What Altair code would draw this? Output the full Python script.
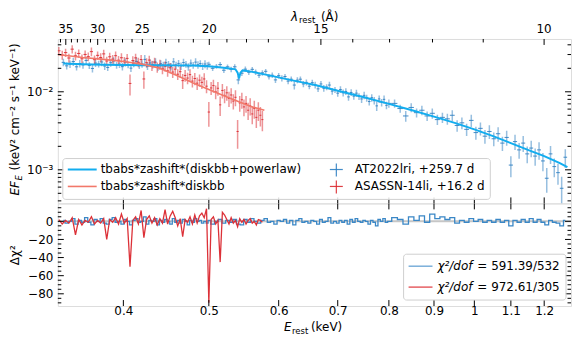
import altair as alt
import pandas as pd

# ---------------- data ----------------
# AT2022lri spectrum (blue): rest energy (keV), EF_E, relative error, residual
blue_E = [0.342, 0.345, 0.348, 0.351, 0.354, 0.357, 0.360, 0.363, 0.366, 0.369,
          0.372, 0.375, 0.378, 0.381, 0.384, 0.387, 0.390, 0.393, 0.396, 0.399,
          0.402, 0.405, 0.408, 0.411, 0.414, 0.417, 0.420, 0.423, 0.426, 0.429,
          0.432, 0.435, 0.438, 0.441, 0.444, 0.447, 0.450, 0.453, 0.456, 0.459,
          0.462, 0.465, 0.468, 0.471, 0.474, 0.477, 0.480, 0.483, 0.486, 0.489,
          0.492, 0.495, 0.498,
          0.500, 0.505, 0.510, 0.515, 0.520, 0.525, 0.530, 0.535, 0.540, 0.545,
          0.550, 0.555, 0.560, 0.565, 0.570, 0.575, 0.580, 0.585, 0.590, 0.595,
          0.600, 0.605, 0.610, 0.615, 0.620, 0.625, 0.630, 0.635, 0.640, 0.645,
          0.650, 0.655, 0.660, 0.665, 0.670, 0.675, 0.680, 0.685, 0.690, 0.695,
          0.700, 0.705, 0.710, 0.715, 0.720, 0.725, 0.730, 0.735, 0.740, 0.745,
          0.750, 0.755, 0.760, 0.765, 0.770, 0.775, 0.780, 0.785, 0.790, 0.795,
          0.800,
          0.812, 0.824, 0.836, 0.848, 0.860, 0.872, 0.884, 0.896, 0.908, 0.920,
          0.932, 0.944, 0.956, 0.968, 0.980, 0.992, 1.004, 1.016, 1.028, 1.040,
          1.052, 1.064, 1.076, 1.088, 1.100, 1.112, 1.124, 1.136, 1.148, 1.160,
          1.172, 1.184, 1.196, 1.208, 1.220, 1.232, 1.244, 1.256, 1.268]
blue_flux = [0.0238, 0.0215, 0.0226, 0.0244, 0.0209, 0.0230, 0.0221, 0.0252, 0.0218, 0.0199,
             0.0233, 0.0227, 0.0241, 0.0214, 0.0205, 0.0236, 0.0248, 0.0219, 0.0226, 0.0210,
             0.0239, 0.0222, 0.0201, 0.0231, 0.0245, 0.0217, 0.0228, 0.0260, 0.0212, 0.0234,
             0.0223, 0.0240, 0.0207, 0.0229, 0.0218, 0.0236, 0.0225, 0.0211, 0.0242, 0.0220,
             0.0231, 0.0214, 0.0237, 0.0226, 0.0209, 0.0233, 0.0219, 0.0240, 0.0222, 0.0230,
             0.0213, 0.0227, 0.0216,
             0.0225, 0.0200, 0.0212, 0.0223, 0.0189, 0.0209, 0.0194, 0.0209, 0.0142, 0.0173,
             0.0195, 0.0178, 0.0194, 0.0179, 0.0163, 0.0175, 0.0183, 0.0156, 0.0163, 0.0142,
             0.0161, 0.0149, 0.0157, 0.0137, 0.0145, 0.0122, 0.0141, 0.0145, 0.0126, 0.0132,
             0.0118, 0.0131, 0.0122, 0.0109, 0.0126, 0.0111, 0.0115, 0.0122, 0.0102, 0.0106,
             0.0096, 0.0107, 0.0097, 0.0101, 0.0086, 0.0098, 0.0088, 0.0096, 0.0087, 0.0081,
             0.0090, 0.0083, 0.0075, 0.0084, 0.0077, 0.0066, 0.0081, 0.0073, 0.0080, 0.0067,
             0.0071,
             0.0071, 0.0061, 0.0049, 0.0063, 0.0054, 0.0058, 0.0049, 0.0053, 0.0044, 0.0047,
             0.0045, 0.0050, 0.0037, 0.0040, 0.0033, 0.0043, 0.0030, 0.0034, 0.0027, 0.0031,
             0.0025, 0.0029, 0.0022, 0.0026, 0.00115, 0.0023, 0.0018, 0.0022, 0.0016, 0.0019,
             0.0015, 0.0018, 0.0013, 0.00078, 0.0016, 0.0011, 0.00092, 0.00058, 0.00145]
blue_relerr = [0.11, 0.10, 0.11, 0.12, 0.10, 0.11, 0.11, 0.12, 0.10, 0.11,
               0.11, 0.10, 0.12, 0.11, 0.10, 0.11, 0.12, 0.10, 0.11, 0.11,
               0.12, 0.10, 0.11, 0.11, 0.12, 0.10, 0.11, 0.14, 0.10, 0.11,
               0.11, 0.12, 0.10, 0.11, 0.11, 0.12, 0.10, 0.11, 0.12, 0.10,
               0.11, 0.11, 0.12, 0.10, 0.11, 0.11, 0.10, 0.12, 0.11, 0.10,
               0.11, 0.12, 0.11,
               0.08, 0.08, 0.07, 0.08, 0.08, 0.07, 0.08, 0.08, 0.12, 0.08,
               0.08, 0.08, 0.07, 0.08, 0.08, 0.08, 0.07, 0.08, 0.08, 0.09,
               0.08, 0.09, 0.08, 0.09, 0.08, 0.12, 0.09, 0.08, 0.09, 0.09,
               0.09, 0.09, 0.10, 0.09, 0.09, 0.10, 0.09, 0.10, 0.10, 0.09,
               0.10, 0.10, 0.10, 0.10, 0.11, 0.10, 0.10, 0.11, 0.10, 0.11,
               0.11, 0.10, 0.11, 0.11, 0.11, 0.14, 0.11, 0.11, 0.12, 0.11,
               0.12,
               0.12, 0.12, 0.16, 0.13, 0.13, 0.14, 0.14, 0.15, 0.15, 0.15,
               0.16, 0.16, 0.17, 0.17, 0.18, 0.18, 0.19, 0.19, 0.20, 0.20,
               0.20, 0.21, 0.21, 0.22, 0.30, 0.22, 0.23, 0.23, 0.24, 0.24,
               0.25, 0.25, 0.26, 0.35, 0.26, 0.27, 0.30, 0.40, 0.27]
blue_resid = [1, -2, 0, 3, -3, 1, -1, 4, -1, -4,
              2, 0, 3, -2, -3, 2, 4, -1, 0, -3,
              2, 0, -4, 1, 3, -1, 0, 5, -3, 1,
              0, 3, -4, 1, -1, 2, 0, -3, 3, -1,
              1, -2, 2, 0, -4, 1, -1, 3, 0, 1,
              -2, 0, -2,
              1, -3, 0, 2, -2, 1, -1, 2, -3, -4,
              2, -1, 3, 0, -2, 1, 3, -1, 0, -3,
              1, 0, 2, -2, 1, -4, 1, 3, -1, 0,
              -2, 1, 0, -3, 2, -1, 0, 4, -2, 0,
              -2, 1, -1, 1, -3, 2, -1, 3, 0, -1,
              1, 0, -3, 1, -1, -5, 2, 0, 3, -1,
              0,
              4, 2, -3, 5, 1, 6, -1, 8, 3, 5,
              2, 4, -2, 1, -1, 3, 0, 2, -1, 1,
              -1, 2, -1, 1, -5, 1, -1, 2, -1, 3,
              -1, 2, -1, -4, 1, -1, -2, -5, 1]

# ASASSN-14li spectrum (red)
red_E = [0.338, 0.341, 0.344, 0.347, 0.350, 0.353, 0.356, 0.359, 0.362, 0.365,
         0.368, 0.371, 0.374, 0.377, 0.380, 0.383, 0.386, 0.389, 0.392, 0.395,
         0.398, 0.401, 0.404, 0.407, 0.410, 0.413, 0.416, 0.419, 0.422, 0.425,
         0.428, 0.431, 0.434, 0.437, 0.440, 0.443, 0.446, 0.449, 0.452, 0.455,
         0.458, 0.461, 0.464, 0.467, 0.470, 0.473, 0.476, 0.479, 0.482, 0.485,
         0.488, 0.491, 0.494, 0.497, 0.500, 0.503, 0.506, 0.509, 0.512, 0.515,
         0.518, 0.521, 0.524, 0.527, 0.530, 0.533, 0.536, 0.539, 0.542, 0.545,
         0.548, 0.551, 0.554, 0.557, 0.560, 0.563, 0.566, 0.569, 0.572, 0.575]
red_flux = [0.0335, 0.0296, 0.0318, 0.0271, 0.0352, 0.0289, 0.0310, 0.0265, 0.0301, 0.0282,
            0.0327, 0.0258, 0.0293, 0.0275, 0.0306, 0.0248, 0.0281, 0.0262, 0.0290, 0.0254,
            0.0273, 0.0247, 0.0268, 0.0128, 0.0251, 0.0272, 0.0239, 0.0259, 0.0146, 0.0236,
            0.0255, 0.0218, 0.0240, 0.0206, 0.0224, 0.0197, 0.0213, 0.0186, 0.0203, 0.0179,
            0.0195, 0.0168, 0.0181, 0.0139, 0.0162, 0.0150, 0.0166, 0.0137, 0.0148, 0.0129,
            0.0141, 0.0132, 0.0146, 0.0118, 0.0055, 0.0112, 0.0120, 0.0100, 0.0111, 0.0068,
            0.0104, 0.0090, 0.0097, 0.0082, 0.0091, 0.0076, 0.0085, 0.0031, 0.0072, 0.0079,
            0.0064, 0.0071, 0.0058, 0.0066, 0.0052, 0.0061, 0.0047, 0.0058, 0.0050, 0.0044]
red_relerr = [0.12, 0.13, 0.12, 0.13, 0.12, 0.13, 0.12, 0.13, 0.12, 0.13,
              0.13, 0.13, 0.12, 0.13, 0.13, 0.13, 0.13, 0.13, 0.13, 0.13,
              0.14, 0.13, 0.14, 0.30, 0.14, 0.13, 0.14, 0.14, 0.25, 0.14,
              0.14, 0.15, 0.14, 0.15, 0.15, 0.15, 0.15, 0.16, 0.15, 0.16,
              0.16, 0.16, 0.16, 0.22, 0.17, 0.17, 0.17, 0.17, 0.18, 0.18,
              0.18, 0.18, 0.18, 0.19, 0.35, 0.19, 0.19, 0.20, 0.20, 0.28,
              0.21, 0.21, 0.21, 0.22, 0.22, 0.22, 0.23, 0.40, 0.23, 0.23,
              0.24, 0.24, 0.25, 0.25, 0.26, 0.26, 0.27, 0.27, 0.28, 0.29]
red_resid = [2, -3, 1, -2, 4, -15, 2, -4, 1, -1,
             5, -3, 1, -2, 3, -20, 2, -1, 4, -3,
             8, -2, 3, -50, 1, 5, -3, 12, -18, 2,
             6, -2, 4, -4, 3, -2, 13, -3, 6, 11,
             4, -5, 3, -17, 2, -1, 5, -3, 7, -2,
             6, 9, 4, 14, -90, 2, 5, -3, 1, -45,
             10, 7, 2, -3, 4, -2, 1, -6, 3, -1,
             2, -3, 1, 3, -2, 0, -4, 2, 1, -1]

# fitted models
blue_model_E = [0.342, 0.36, 0.38, 0.40, 0.42, 0.44, 0.46, 0.48, 0.50, 0.52,
                0.53, 0.536, 0.539, 0.541, 0.543, 0.546, 0.55, 0.56, 0.58, 0.60,
                0.62, 0.64, 0.66, 0.70, 0.75, 0.80, 0.85, 0.90, 0.95, 1.00,
                1.05, 1.10, 1.15, 1.20, 1.25, 1.275]
blue_model_F = [0.0230, 0.0225, 0.0222, 0.0220, 0.0219, 0.0219, 0.0218, 0.0217, 0.0212, 0.0203,
                0.0198, 0.0194, 0.0176, 0.0148, 0.0176, 0.0188, 0.0186, 0.0180, 0.0166, 0.0153,
                0.0141, 0.0131, 0.0122, 0.0103, 0.0085, 0.0070, 0.0058, 0.0048, 0.0040, 0.0033,
                0.0027, 0.0022, 0.0018, 0.0015, 0.00122, 0.00108]
red_model_E = [0.337, 0.36, 0.38, 0.40, 0.42, 0.44, 0.46, 0.48, 0.50, 0.52, 0.54, 0.56, 0.578]
red_model_F = [0.0300, 0.0275, 0.0260, 0.0245, 0.0226, 0.0200, 0.0162, 0.0130, 0.0107, 0.0089,
               0.0075, 0.0064, 0.0058]

# axes / ticks / labels
x_ticks = [0.4, 0.5, 0.6, 0.7, 0.8, 0.9, 1.0, 1.1, 1.2]
lam_major = [35, 30, 25, 20, 15, 10]
lam_minor = [36, 34, 33, 32, 31, 29, 28, 27, 26, 24, 23, 22, 21, 19, 18, 17, 16, 14, 13, 12, 11]
flux_major = [0.001, 0.01]
flux_minor = [0.0004, 0.0005, 0.0006, 0.0007, 0.0008, 0.0009,
              0.002, 0.003, 0.004, 0.005, 0.006, 0.007, 0.008, 0.009,
              0.02, 0.03, 0.04]
res_major = [0, -20, -40, -60, -80]
res_minor = [15, 10, 5, -5, -10, -15, -25, -30, -35, -45, -50, -55, -65, -70, -75, -85, -90]

legend_top_models = ["tbabs*zashift*(diskbb+powerlaw)", "tbabs*zashift*diskbb"]
legend_top_data = ["AT2022lri, +259.7 d", "ASASSN-14li, +16.2 d"]
legend_bottom = ["= 591.39/532", "= 972.61/305"]

# ---------------- styling ----------------
W, H1, H2 = 515, 165, 103
FONT = "DejaVu Sans"
BLUE_D = "#2f80c2"
BLUE_M = "#12adef"
RED_D = "#dc2a30"
RED_M = "#f2786a"
BLUE_R = "#3a87c6"
RED_R = "#dc3138"

E_MIN, E_MAX = 0.3371, 1.287
# the wavelength axis on top is linear in 1/lambda between these limits (A^-1)
U_MIN, U_MAX = 0.027381, 0.104018
LAM_TO_X = (f"{E_MIN} * pow({E_MAX} / {E_MIN}, "
            f"(1 / datum.lam - {U_MIN}) / ({U_MAX} - {U_MIN}))")


def edges(E):
    lo, hi = [], []
    for i, e in enumerate(E):
        left = (E[i - 1] + e) / 2 if i > 0 else e - (E[1] - E[0]) / 2
        right = (E[i + 1] + e) / 2 if i < len(E) - 1 else e + (E[-1] - E[-2]) / 2
        lo.append(left)
        hi.append(right)
    return lo, hi


def spec_df(E, F, rel, res):
    lo, hi = edges(E)
    return pd.DataFrame({
        "E": E, "F": F, "Elo": lo, "Ehi": hi,
        "lo": [f * (1 - r) for f, r in zip(F, rel)],
        "hi": [f * (1 + r) for f, r in zip(F, rel)],
        "res": res,
    })


blue = spec_df(blue_E, blue_flux, blue_relerr, blue_resid)
red = spec_df(red_E, red_flux, red_relerr, red_resid)
bmod = pd.DataFrame({"E": blue_model_E, "F": blue_model_F})
rmod = pd.DataFrame({"E": red_model_E, "F": red_model_F})
ONE = pd.DataFrame({"k": [0]})

XS = alt.Scale(type="log", domain=[E_MIN, E_MAX], nice=False)
YS1 = alt.Scale(type="log", domain=[3.713e-4, 0.04752], nice=False)
YS2 = alt.Scale(domain=[-93.5, 19.8], nice=False, zero=False)

YAX1 = alt.Axis(values=flux_major, labelExpr="datum.value < 0.005 ? '10⁻³' : '10⁻²'",
                ticks=False, tickSize=0, domain=False, grid=False, title=None,
                labelPadding=5, labelFontSize=12, labelFont=FONT, labelColor="black")
YAX2 = alt.Axis(values=res_major, format="d", ticks=False, tickSize=0, domain=False, grid=False,
                title=None, labelPadding=5, labelFontSize=12, labelFont=FONT, labelColor="black")
XAX2 = alt.Axis(values=x_ticks, labelExpr="datum.value == 1 ? '1' : format(datum.value, '.1f')",
                ticks=False, tickSize=0, domain=False, grid=False, title=None, labelOverlap=False,
                labelPadding=0, labelFontSize=12, labelFont=FONT, labelColor="black")


def txt(s, x, y, size=12, italic=False, angle=0, align="left", baseline="alphabetic", color="black"):
    return alt.Chart(ONE).mark_text(
        text=s, fontSize=size, font=FONT, fontStyle="italic" if italic else "normal",
        angle=angle, align=align, baseline=baseline, color=color
    ).encode(x=alt.value(x), y=alt.value(y))


def hrule(x1, x2, y, color, width=1.0, opacity=1.0):
    return alt.Chart(ONE).mark_rule(color=color, strokeWidth=width, opacity=opacity).encode(
        x=alt.value(x1), x2=alt.value(x2), y=alt.value(y))


def vrule(x, y1, y2, color, width=1.0, opacity=1.0):
    return alt.Chart(ONE).mark_rule(color=color, strokeWidth=width, opacity=opacity).encode(
        x=alt.value(x), y=alt.value(y1), y2=alt.value(y2))


def yticks(vals, scale, axis, length, width):
    d = pd.DataFrame({"v": vals})
    base = alt.Chart(d).mark_rule(color="black", strokeWidth=1)
    left = base.encode(y=alt.Y("v:Q", scale=scale, axis=axis), x=alt.value(0), x2=alt.value(length))
    right = base.encode(y=alt.Y("v:Q", scale=scale, axis=axis), x=alt.value(width - length), x2=alt.value(width))
    return [left, right]


def xticks(vals, y1, y2, axis=None):
    d = pd.DataFrame({"v": vals})
    return alt.Chart(d).mark_rule(color="black", strokeWidth=1).encode(
        x=alt.X("v:Q", scale=XS, axis=axis), y=alt.value(y1), y2=alt.value(y2))


# ---------------- top panel ----------------
def ybar(df, color):
    v = alt.Chart(df).mark_rule(color=color, strokeWidth=1.5, opacity=0.5, clip=True).encode(
        x=alt.X("E:Q", scale=XS, axis=None),
        y=alt.Y("lo:Q", scale=YS1, axis=YAX1), y2="hi:Q")
    h = alt.Chart(df).mark_rule(color=color, strokeWidth=1, opacity=0.9, clip=True).encode(
        x=alt.X("Elo:Q", scale=XS, axis=None), x2="Ehi:Q",
        y=alt.Y("F:Q", scale=YS1, axis=YAX1))
    return [v, h]


def model(df, color, width):
    return alt.Chart(df).mark_line(color=color, strokeWidth=width, clip=True).encode(
        x=alt.X("E:Q", scale=XS, axis=None), y=alt.Y("F:Q", scale=YS1, axis=YAX1))


top_layers = (ybar(blue, BLUE_D) + ybar(red, RED_D) +
              [model(bmod, BLUE_M, 2.0), model(rmod, RED_M, 1.6)] +
              yticks(flux_major, YS1, YAX1, 6, W) + yticks(flux_minor, YS1, YAX1, 3.5, W) +
              [xticks(x_ticks, H1 - 6, H1)])

# wavelength axis (top edge)
lam_maj_df = pd.DataFrame({"lam": lam_major, "lab": [str(l) for l in lam_major]})
lam_min_df = pd.DataFrame({"lam": lam_minor})
lam_layers = [
    alt.Chart(lam_maj_df).transform_calculate(xe=LAM_TO_X).mark_rule(color="black", strokeWidth=1).encode(
        x=alt.X("xe:Q", scale=XS, axis=None), y=alt.value(0), y2=alt.value(6)),
    alt.Chart(lam_min_df).transform_calculate(xe=LAM_TO_X).mark_rule(color="black", strokeWidth=1).encode(
        x=alt.X("xe:Q", scale=XS, axis=None), y=alt.value(0), y2=alt.value(3.5)),
    alt.Chart(lam_maj_df).transform_calculate(xe=LAM_TO_X).mark_text(
        fontSize=12, font=FONT, baseline="alphabetic", align="center", color="black").encode(
        x=alt.X("xe:Q", scale=XS, axis=None), y=alt.value(-6), text="lab:N"),
]

# legend (top)
top_legend = [
    alt.Chart(ONE).mark_rect(fill="white", fillOpacity=0.85, stroke="#cfcfcf", strokeWidth=1,
                             cornerRadius=3).encode(
        x=alt.value(5), x2=alt.value(434), y=alt.value(120), y2=alt.value(161)),
    hrule(10, 39, 131, BLUE_M, 2.0),
    hrule(10, 39, 148, RED_M, 1.6),
    txt(legend_top_models[0], 43, 131, baseline="middle"),
    txt(legend_top_models[1], 43, 148, baseline="middle"),
    hrule(273, 286, 131, BLUE_D, 1.2, 0.9), vrule(279.5, 125, 138, BLUE_D, 1.2, 0.9),
    hrule(273, 286, 148, RED_D, 1.2, 0.9), vrule(279.5, 142, 155, RED_D, 1.2, 0.9),
    txt(legend_top_data[0], 298, 131, baseline="middle"),
    txt(legend_top_data[1], 298, 148, baseline="middle"),
]

# titles (top panel)
top_titles = [
    txt("λ", 234, -18.5, italic=True),
    txt("rest", 242, -16, size=8.5),
    txt("(Å)", 264, -18.5),
    txt("EF", -39, 157, italic=True, angle=270),
    txt("E", -36, 142, size=8.5, italic=True, angle=270),
    txt("(keV² cm⁻² s⁻¹ keV⁻¹)", -39, 132, angle=270),
]

top = alt.layer(*(top_layers + lam_layers + top_legend + top_titles)).properties(width=W, height=H1)

# ---------------- bottom panel ----------------
zero = alt.Chart(pd.DataFrame({"v": [0]})).mark_rule(color="#b8b8b8", strokeWidth=2, opacity=0.8).encode(
    y=alt.Y("v:Q", scale=YS2, axis=YAX2), x=alt.value(0), x2=alt.value(W))


def resid(df, color, interp):
    return alt.Chart(df).mark_line(color=color, strokeWidth=1.3, interpolate=interp, clip=True).encode(
        x=alt.X("E:Q", scale=XS, axis=XAX2), y=alt.Y("res:Q", scale=YS2, axis=YAX2))


bottom_layers = ([zero, resid(blue, BLUE_R, "step"), resid(red, RED_R, "linear")] +
                 yticks(res_major, YS2, YAX2, 6, W) + yticks(res_minor, YS2, YAX2, 3.5, W) +
                 [xticks(x_ticks, 0, 6, XAX2), xticks(x_ticks, H2 - 6, H2, XAX2)])
bottom_legend = [
    alt.Chart(ONE).mark_rect(fill="white", fillOpacity=0.85, stroke="#cfcfcf", strokeWidth=1,
                             cornerRadius=3).encode(
        x=alt.value(347), x2=alt.value(510), y=alt.value(51), y2=alt.value(97)),
    hrule(352, 376, 63, "#5a9bd0", 1.2),
    hrule(352, 376, 84, "#e0373c", 1.2),
    txt("χ²/dof", 381, 63, italic=True, baseline="middle"),
    txt(legend_bottom[0], 421, 63, baseline="middle"),
    txt("χ²/dof", 381, 84, italic=True, baseline="middle"),
    txt(legend_bottom[1], 421, 84, baseline="middle"),
]
bottom_titles = [
    txt("E", 227, 128.5, italic=True),
    txt("rest", 235, 131, size=8.5),
    txt("(keV)", 254, 128.5),
    txt("Δχ²", -39, 52, angle=270, align="center"),
]
bottom = alt.layer(*(bottom_layers + bottom_legend + bottom_titles)).properties(width=W, height=H2)

chart = alt.vconcat(top, bottom, spacing=0, bounds="flush").properties(
    padding={"left": 0, "top": 1.5, "right": 0, "bottom": 0}
).configure_view(stroke="black", strokeWidth=1).configure(font=FONT)

chart.save("out.html", embed_options={"renderer": "svg", "actions": False})
